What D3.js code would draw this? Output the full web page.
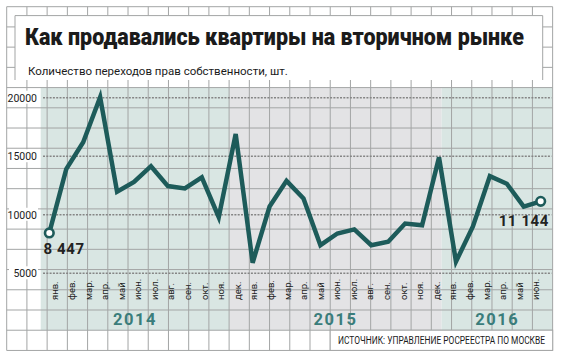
<!DOCTYPE html>
<html>
<head>
<meta charset="utf-8">
<script src="https://d3js.org/d3.v7.min.js"></script>
<style>
  body { margin: 0; background: #fff; }
  text { font-family: Roboto, "DejaVu Sans", sans-serif; }
</style>
</head>
<body>
<script>
// data
const months = ["янв.","фев.","мар.","апр.","май","июн.","июл.","авг.","сен.","окт.","ноя.","дек.",
                "янв.","фев.","мар.","апр.","май","июн.","июл.","авг.","сен.","окт.","ноя.","дек.",
                "янв.","фев.","мар.","апр.","май","июн."];
const values = [8447, 13900, 16200, 20050, 11970, 12800, 14150, 12450, 12250, 13200, 9800, 16900,
                5900, 10700, 12900, 11400, 7400, 8400, 8750, 7400, 7700, 9250, 9100, 14900,
                6000, 9000, 13300, 12650, 10700, 11144];
const years = ["2014", "2015", "2016"];
const yearEdges = [40.7, 229.3, 441.7, 552.7];   // panel borders (layout)
const yTicks = [5000, 10000, 15000, 20000];

const W = 561, H = 359;
const svg = d3.select("body").append("svg").attr("width", W).attr("height", H);

const x = d3.scaleLinear().domain([0, months.length - 1]).range([49.3, 540.7]);
const xLab = d3.scaleLinear().domain([0, months.length - 1]).range([55, 536]);
const y = d3.scaleLinear().domain([5000, 20000]).range([273.3, 97.7]);

// year panels
svg.selectAll("rect.panel").data(years).join("rect")
  .attr("class", "panel")
  .attr("x", (d, i) => yearEdges[i])
  .attr("width", (d, i) => yearEdges[i + 1] - yearEdges[i])
  .attr("y", 87.6).attr("height", 330.2 - 87.6)
  .attr("fill", (d, i) => i === 1 ? "#e3e3e5" : "#d9e6e3");

// background grid
const step = 20.22, g0 = 6.7;
const gx = d3.range(28).map(k => g0 + k * step);
const gy = d3.range(18).map(k => g0 + k * step);
const grid = svg.append("g").attr("stroke", "#a3a5a5").attr("stroke-width", 1);
grid.selectAll("line.v").data(gx).join("line")
  .attr("x1", d => d).attr("x2", d => d).attr("y1", g0).attr("y2", gy[gy.length - 1]);
grid.selectAll("line.h").data(gy).join("line")
  .attr("y1", d => d).attr("y2", d => d).attr("x1", g0).attr("x2", gx[gx.length - 1]);

// title box
svg.append("rect").attr("x", 15).attr("y", 15.6).attr("width", 527.7).attr("height", 64.4).attr("fill", "#fff");
svg.append("path").attr("d", "M15,80V15.6H542.7V80").attr("fill", "none").attr("stroke", "#a3a5a5");

svg.append("text").attr("x", 25).attr("y", 45)
  .attr("textLength", 499).attr("lengthAdjust", "spacingAndGlyphs")
  .style("font-size", "23px").style("font-weight", 900).attr("fill", "#1b1b1b")
  .text("Как продавались квартиры на вторичном рынке");
svg.append("text").attr("x", 28).attr("y", 74.5)
  .style("font-size", "11.5px").attr("fill", "#1b1b1b")
  .text("Количество переходов прав собственности, шт.");

// source box, text squeezed horizontally to a condensed look
svg.append("rect").attr("x", 330.2).attr("y", 330.2).attr("width", 552.7 - 330.2).attr("height", 350.4 - 330.2)
  .attr("fill", "#fff").attr("stroke", "#a3a5a5");
const src = svg.append("text")
  .style("font-size", "10.5px").attr("fill", "#1b1b1b")
  .text("ИСТОЧНИК: УПРАВЛЕНИЕ РОСРЕЕСТРА ПО МОСКВЕ");
const srcLen = src.node().getComputedTextLength();
src.attr("transform", `translate(338,344) scale(${Math.min(1, 207 / srcLen)},1)`);

// y ticks: dotted lines and labels on white
svg.selectAll("line.tick").data(yTicks).join("line")
  .attr("x1", 43).attr("x2", 551.5)
  .attr("y1", d => y(d)).attr("y2", d => y(d))
  .attr("stroke", "#858585").attr("stroke-width", 1.4).attr("stroke-dasharray", "2,1.3");
svg.selectAll("rect.tickbg").data(yTicks).join("rect")
  .attr("x", 9).attr("width", 29).attr("y", d => y(d) - 7).attr("height", 13).attr("fill", "#fff");
svg.selectAll("text.tick").data(yTicks).join("text")
  .attr("x", 37).attr("y", d => y(d) + 3.8).attr("text-anchor", "end")
  .style("font-size", "10.5px").attr("fill", "#1b1b1b")
  .text(d => d);

// month labels
svg.selectAll("text.month").data(months).join("text")
  .attr("transform", (d, i) => `translate(${xLab(i)},300) rotate(-90)`)
  .attr("dy", "0.35em")
  .style("font-size", "9.5px").attr("fill", "#1b1b1b")
  .text(d => d);

// year labels
svg.selectAll("text.year").data(years).join("text")
  .attr("x", (d, i) => (yearEdges[i] + yearEdges[i + 1]) / 2).attr("y", 325)
  .attr("text-anchor", "middle")
  .style("font-size", "16.5px").style("font-weight", 700).style("letter-spacing", "1.5px")
  .attr("fill", "#3a7d7b")
  .text(d => d);

// the line
const line = d3.line().x((d, i) => x(i)).y(d => y(d));
svg.append("path").datum(values).attr("d", line)
  .attr("fill", "none").attr("stroke", "#1d5b5a").attr("stroke-width", 4.5)
  .attr("stroke-linejoin", "miter");

const ends = [0, values.length - 1];
svg.selectAll("circle.end").data(ends).join("circle")
  .attr("cx", i => x(i)).attr("cy", i => y(values[i])).attr("r", 4.3)
  .attr("fill", "#fff").attr("stroke", "#1d5b5a").attr("stroke-width", 2.6);

const fmt = v => d3.format(",")(v).replace(/,/g, " ");
svg.append("text").attr("x", 43.5).attr("y", 254)
  .style("font-size", "15px").style("font-weight", 700).style("letter-spacing", "0.6px")
  .attr("fill", "#222").text(fmt(values[0]));
svg.append("text").attr("x", 549).attr("y", 226).attr("text-anchor", "end")
  .style("font-size", "15px").style("font-weight", 700).style("letter-spacing", "0.6px")
  .attr("fill", "#222").text(fmt(values[values.length - 1]));
</script>
</body>
</html>
